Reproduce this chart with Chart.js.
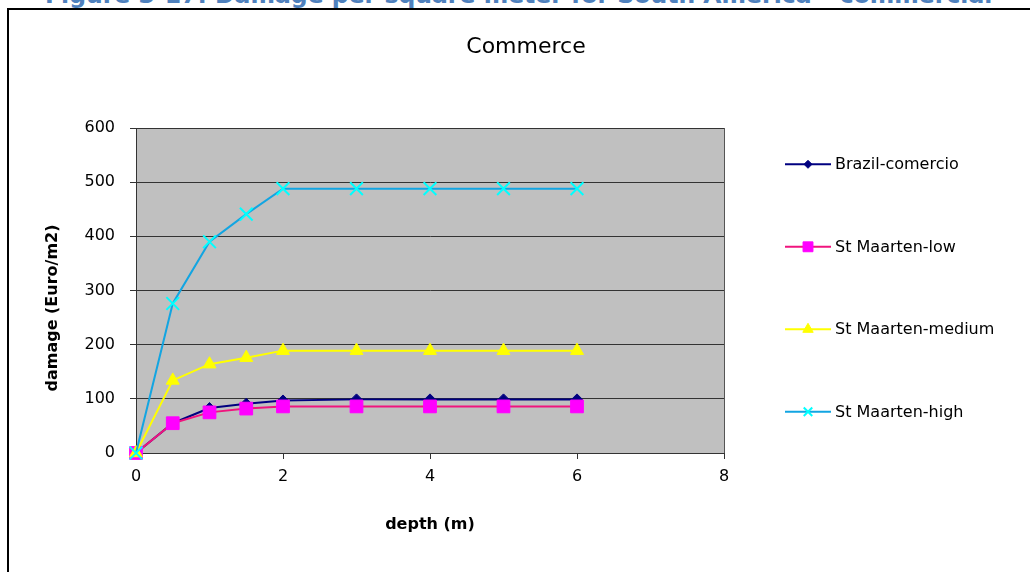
<!DOCTYPE html>
<html>
<head>
<meta charset="utf-8">
<script src="https://cdn.jsdelivr.net/npm/chart.js@4/dist/chart.umd.min.js"></script>
<style>
  html, body { margin: 0; padding: 0; background: #fff; overflow: hidden; }
  #wrap { position: relative; width: 1030px; height: 572px; overflow: hidden; }
  #chart { position: absolute; left: 0; top: 0; }
  #frame { position: absolute; left: 7px; top: 8px; width: 1100px; height: 700px;
           border-left: 2px solid #000; border-top: 2px solid #000; pointer-events: none; }
  #cap { position: absolute; left: 45px; white-space: nowrap; font-family: "DejaVu Sans";
         font-weight: bold; color: #4F81BD; line-height: 1; }
</style>
</head>
<body>
<div id="wrap">
  <div id="cap"></div>
  <canvas id="chart" width="1030" height="572"></canvas>
  <div id="frame"></div>
</div>
<script>
// ---- data ----
const captionText = "Figure 3-17: Damage per square meter for South America \u2013 commercial";
const chartTitle = "Commerce";
const xTitle = "depth (m)";
const yTitle = "damage (Euro/m2)";
const depths = [0, 0.5, 1, 1.5, 2, 3, 4, 5, 6];
const seriesNames = ["Brazil-comercio", "St Maarten-low", "St Maarten-medium", "St Maarten-high"];
const brazilComercio = [0, 55, 83, 91, 97, 99, 99, 99, 99];
const stMaartenLow = [0, 55, 75, 82, 86, 86, 86, 86, 86];
const stMaartenMedium = [0, 134, 164, 176, 189, 189, 189, 189, 189];
const stMaartenHigh = [0, 276, 390, 441, 488, 488, 488, 488, 488];
const xTicks = [0, 2, 4, 6, 8];
const yTicks = [0, 100, 200, 300, 400, 500, 600];

// ---- caption (cut off at top like the reference) ----
(function () {
  const cap = document.getElementById('cap');
  const m = document.createElement('canvas').getContext('2d');
  m.font = 'bold 20px "DejaVu Sans"';
  const w = m.measureText(captionText).width;
  const size = 20 * 948 / w;
  cap.style.fontSize = size + 'px';
  cap.style.top = (3.5 - 0.846 * size) + 'px';
  cap.textContent = captionText;
})();

const FONT = '"DejaVu Sans", Arial, sans-serif';
const toXY = arr => depths.map((d, i) => ({ x: d, y: arr[i] }));

const styles = [
  { line: '#000080', fill: '#000080', point: 'rectRot', r: 5.5, lr: 4, bw: 1 },
  { line: '#F0147E', fill: '#FF00FF', point: 'rect', r: 9, lr: 7, bw: 1 },
  { line: '#FFFF00', fill: '#FFFF00', point: 'triangle', r: 7.5, lr: 6, bw: 1 },
  { line: '#12A5E2', fill: '#00FFFF', point: 'crossRot', r: 9, lr: 6, bw: 2 }
];
const values = [brazilComercio, stMaartenLow, stMaartenMedium, stMaartenHigh];

const datasets = values.map((v, i) => ({
  label: seriesNames[i],
  data: toXY(v),
  borderColor: styles[i].line,
  backgroundColor: styles[i].fill,
  borderWidth: 2,
  pointStyle: styles[i].point,
  pointRadius: styles[i].r,
  pointHoverRadius: styles[i].r,
  pointBackgroundColor: styles[i].fill,
  pointBorderColor: styles[i].fill,
  pointBorderWidth: styles[i].bw,
  tension: 0,
  clip: false,
  order: values.length - i
}));

const plotBg = {
  id: 'plotBg',
  beforeDraw(chart) {
    const { ctx, chartArea: a } = chart;
    ctx.save();
    ctx.fillStyle = '#C0C0C0';
    ctx.fillRect(a.left, a.top, a.right - a.left, a.bottom - a.top);
    ctx.strokeStyle = '#555';
    ctx.lineWidth = 1;
    ctx.strokeRect(Math.round(a.left) + 0.5, Math.round(a.top) + 0.5,
                   Math.round(a.right - a.left), Math.round(a.bottom - a.top));
    ctx.restore();
  }
};

const yTitlePlugin = {
  id: 'yTitlePlugin',
  afterDraw(chart) {
    const ctx = chart.ctx;
    ctx.save();
    ctx.translate(53, 308);
    ctx.rotate(-Math.PI / 2);
    ctx.font = 'bold 16px ' + FONT;
    ctx.fillStyle = '#000';
    ctx.textAlign = 'center';
    ctx.textBaseline = 'middle';
    ctx.fillText(yTitle, 0, 0);
    ctx.restore();
  }
};

const legendPlugin = {
  id: 'customLegend',
  afterDraw(chart) {
    const ctx = chart.ctx;
    const x0 = 785, x1 = 831, tx = 835, y0 = 164.3, step = 82.5;
    chart.data.datasets.forEach((ds, i) => {
      const y = y0 + i * step;
      const st = styles[i];
      ctx.save();
      ctx.strokeStyle = ds.borderColor;
      ctx.lineWidth = 2;
      ctx.beginPath();
      ctx.moveTo(x0, y);
      ctx.lineTo(x1, y);
      ctx.stroke();
      ctx.fillStyle = st.fill;
      ctx.strokeStyle = st.fill;
      ctx.lineWidth = st.bw;
      if (Chart.helpers && Chart.helpers.drawPoint) {
        Chart.helpers.drawPoint(ctx, { pointStyle: st.point, radius: st.lr, borderWidth: st.bw, rotation: 0 }, (x0 + x1) / 2, y);
      }
      ctx.fillStyle = '#000';
      ctx.font = '16px ' + FONT;
      ctx.textAlign = 'left';
      ctx.textBaseline = 'middle';
      ctx.fillText(ds.label, tx, y + 1);
      ctx.restore();
    });
  }
};

new Chart(document.getElementById('chart'), {
  type: 'line',
  data: { datasets },
  plugins: [plotBg, yTitlePlugin, legendPlugin],
  options: {
    responsive: false,
    animation: false,
    devicePixelRatio: 1,
    layout: { padding: { left: 22, right: 0, top: 0, bottom: 0 } },
    plugins: {
      legend: { display: false },
      tooltip: { enabled: false },
      title: {
        display: true,
        text: chartTitle,
        color: '#000',
        font: { family: FONT, size: 22, weight: 'normal' },
        padding: { top: 34, bottom: 67.6 }
      }
    },
    scales: {
      x: {
        type: 'linear',
        position: 'bottom',
        min: xTicks[0],
        max: xTicks[xTicks.length - 1],
        afterBuildTicks(scale) { scale.ticks = xTicks.map(v => ({ value: v })); },
        afterFit(scale) { scale.height = 119; },
        grid: { drawOnChartArea: false, drawTicks: true, tickLength: 6, color: '#333', lineWidth: 1 },
        border: { display: true, color: '#333', width: 1 },
        ticks: { color: '#000', font: { family: FONT, size: 16 }, padding: 8, maxRotation: 0 },
        title: {
          display: true, text: xTitle, color: '#000',
          font: { family: FONT, size: 16, weight: 'bold' },
          padding: { top: 0, bottom: 37.4 }
        }
      },
      y: {
        type: 'linear',
        position: 'left',
        min: yTicks[0],
        max: yTicks[yTicks.length - 1],
        afterBuildTicks(scale) { scale.ticks = yTicks.map(v => ({ value: v })); },
        afterFit(scale) { scale.width = 114; },
        grid: { drawOnChartArea: true, drawTicks: true, tickLength: 6, color: '#333', lineWidth: 1 },
        border: { display: true, color: '#333', width: 1 },
        ticks: { color: '#000', font: { family: FONT, size: 16 }, padding: 15 }
      },
      y2: {
        type: 'linear',
        position: 'right',
        display: true,
        afterFit(scale) { scale.width = 306; },
        grid: { display: false, drawOnChartArea: false, drawTicks: false },
        border: { display: false },
        ticks: { display: false }
      }
    }
  }
});
</script>
</body>
</html>
